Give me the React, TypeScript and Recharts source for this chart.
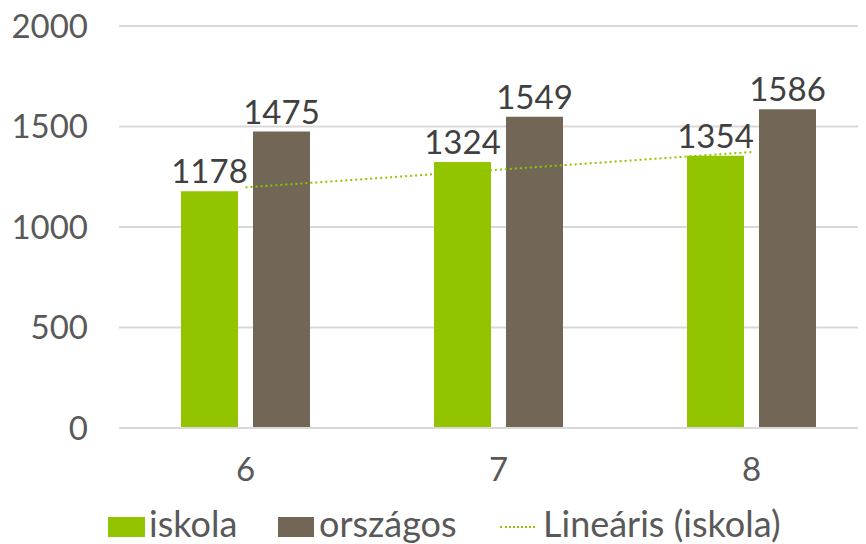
import { Bar, Line, XAxis, YAxis, CartesianGrid, LabelList, Legend, ComposedChart } from 'recharts';

const categories = ['6', '7', '8'];
const iskola = [1178, 1324, 1354];
const orszagos = [1475, 1549, 1586];
const trend = [1197, 1285, 1373];
const yTicks = [0, 500, 1000, 1500, 2000];

const GREEN = '#93c400';
const BROWN = '#726756';
const FONT = 'Lato, "Open Sans", sans-serif';

const data = categories.map((c, i) => ({
  name: c,
  iskola: iskola[i],
  orszagos: orszagos[i],
  trend: trend[i],
}));

function LegendBox() {
  const text = {
    position: 'absolute' as const,
    top: 4,
    fontSize: 36,
    color: '#595959',
    fontFamily: FONT,
    lineHeight: '38px',
    whiteSpace: 'nowrap' as const,
  };
  return (
    <div style={{ position: 'relative', width: 866, height: 44 }}>
      <span style={{ position: 'absolute', left: 108, top: 17, width: 37, height: 20, background: GREEN }} />
      <span style={{ ...text, left: 149 }}>iskola</span>
      <span style={{ position: 'absolute', left: 278, top: 17, width: 36, height: 20, background: BROWN }} />
      <span style={{ ...text, left: 319 }}>országos</span>
      <span style={{ position: 'absolute', left: 500, top: 26, width: 35, borderTop: `2px dotted ${GREEN}` }} />
      <span style={{ ...text, left: 543 }}>Lineáris (iskola)</span>
    </div>
  );
}

export default function App() {
  return (
    <div style={{ marginLeft: -8, marginTop: -8, background: '#fff', width: 866, height: 544, overflow: 'hidden' }}>
      <ComposedChart
        width={866}
        height={544}
        data={data}
        margin={{ top: 26, right: -12, left: 0, bottom: 0 }}
        barGap={15}
      >
        <CartesianGrid vertical={false} stroke="#d9d9d9" strokeWidth={2} />
        <XAxis
          dataKey="name"
          tickLine={false}
          axisLine={{ stroke: '#d9d9d9', strokeWidth: 2 }}
          tick={{ fill: '#595959', fontSize: 33, fontFamily: FONT }}
          tickMargin={24}
          height={72}
        />
        <YAxis
          domain={[0, 2000]}
          ticks={yTicks}
          tickLine={false}
          axisLine={false}
          width={119}
          tickMargin={25}
          tick={{ fill: '#595959', fontSize: 33, fontFamily: FONT }}
        />
        <Legend verticalAlign="bottom" height={44} content={() => <LegendBox />} />
        <Bar dataKey="iskola" fill={GREEN} barSize={57} isAnimationActive={false}>
          <LabelList dataKey="iskola" position="top" offset={8} fill="#404040" fontSize={33} fontFamily={FONT} />
        </Bar>
        <Bar dataKey="orszagos" fill={BROWN} barSize={57} isAnimationActive={false}>
          <LabelList dataKey="orszagos" position="top" offset={8} fill="#404040" fontSize={33} fontFamily={FONT} />
        </Bar>
        <Line
          dataKey="trend"
          stroke={GREEN}
          strokeWidth={2}
          strokeDasharray="2 3"
          dot={false}
          activeDot={false}
          isAnimationActive={false}
        />
      </ComposedChart>
    </div>
  );
}
